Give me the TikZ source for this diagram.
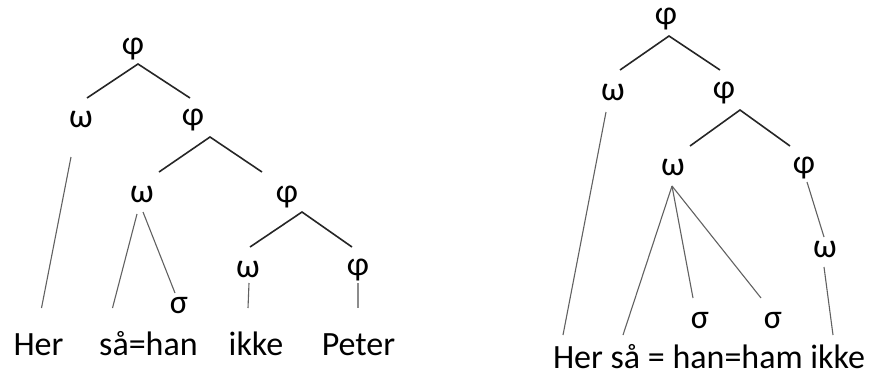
\documentclass[tikz,border=0pt]{standalone}
\usepackage{fontspec}
\setmainfont{Carlito}
\begin{document}
\begin{tikzpicture}[x=1pt,y=-1pt,
  lab/.style={inner sep=0pt,font=\fontsize{34}{40}\selectfont},
  word/.style={lab,anchor=base},
  branch/.style={draw=black!85,line width=1.6pt},
  link/.style={draw=black!62,line width=1.1pt}]
\useasboundingbox (0,0) rectangle (872,375);
% ---------- left tree ----------
\node[lab] (L0) at (133,49) {φ};
\node[lab] (L1w) at (81,120) {ω};
\node[lab] (L1p) at (193,120) {φ};
\node[lab] (L2w) at (142,195) {ω};
\node[lab] (L2p) at (287,197) {φ};
\node[lab] (L3w) at (248,270) {ω};
\node[lab] (L3p) at (358,270) {φ};
\node[lab] (Ls) at (179,306) {σ};
\node[word] (Her) at (38.5,355) {Her};
\node[word] (saahan) at (148.5,355) {så=han};
\node[word] (ikke) at (256,355) {ikke};
\node[word] (Peter) at (358.5,355) {Peter};
\coordinate (La0) at (138,64);
\coordinate (La0l) at (87,98);
\coordinate (La0r) at (190,98);
\coordinate (La1) at (210,137);
\coordinate (La1l) at (159,172);
\coordinate (La1r) at (262,172);
\coordinate (La2) at (302,212);
\coordinate (La2l) at (250,247);
\coordinate (La2r) at (352,247);
\draw[branch] (La0l) -- (La0) -- (La0r);
\draw[branch] (La1l) -- (La1) -- (La1r);
\draw[branch] (La2l) -- (La2) -- (La2r);
\draw[link] ([shift={(-10,37)}]L1w.center) -- ([shift={(3,-47)}]Her.base);
\draw[link] ([shift={(-5,19)}]L2w.center) -- ([shift={(-36,-47)}]saahan.base);
\draw[link] ([shift={(1,17)}]L2w.center) -- ([shift={(-4,-13)}]Ls.center);
\draw[link] ([shift={(1,13)}]L3w.center) -- ([shift={(-8,-47)}]ikke.base);
\draw[link,draw=black!45] ([shift={(0,13)}]L3p.center) -- ([shift={(-0.5,-47)}]Peter.base);
% ---------- right tree ----------
\node[lab] (R0) at (666,19) {φ};
\node[lab] (R1w) at (613,93) {ω};
\node[lab] (R1p) at (724,93) {φ};
\node[lab] (R2w) at (673,168) {ω};
\node[lab] (R2p) at (804,168) {φ};
\node[lab] (R3w) at (825,250) {ω};
\node[lab] (Rs1) at (700,321) {σ};
\node[lab] (Rs2) at (773,321) {σ};
\node[word] (Rtext) at (709,368) {Her så = han=ham ikke};
\coordinate (Ra0) at (669,36);
\coordinate (Ra0l) at (620,70);
\coordinate (Ra0r) at (720,70);
\coordinate (Ra1) at (740,110);
\coordinate (Ra1l) at (690,146);
\coordinate (Ra1r) at (790,146);
\coordinate (Rfan) at (672,186);
\draw[branch] (Ra0l) -- (Ra0) -- (Ra0r);
\draw[branch] (Ra1l) -- (Ra1) -- (Ra1r);
\draw[link] ([shift={(-7,19)}]R1w.center) -- ([shift={(-146,-33)}]Rtext.base);
\draw[link] (Rfan) -- ([shift={(-86,-33)}]Rtext.base);
\draw[link] (Rfan) -- ([shift={(-7,-23)}]Rs1.center);
\draw[link] (Rfan) -- ([shift={(-12,-23)}]Rs2.center);
\draw[link] ([shift={(3,14)}]R2p.center) -- ([shift={(-1,-13)}]R3w.center);
\draw[link] ([shift={(-1,17)}]R3w.center) -- ([shift={(124,-33)}]Rtext.base);
\end{tikzpicture}
\end{document}
